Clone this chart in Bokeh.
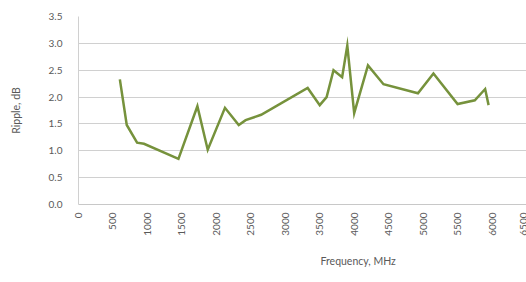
import math
from bokeh.plotting import figure
from bokeh.models import FixedTicker, Range1d, Title, PrintfTickFormatter
from bokeh.embed import file_html
from bokeh.resources import INLINE

freq_mhz = [600, 700, 850, 950, 1450, 1725, 1875, 2125, 2325, 2425, 2650, 3325,
            3500, 3600, 3700, 3825, 3900, 4000, 4200, 4425, 4925, 5150, 5500,
            5750, 5900, 5950]
ripple_db = [2.33, 1.48, 1.15, 1.13, 0.85, 1.83, 1.02, 1.80, 1.48, 1.57, 1.67, 2.17,
             1.85, 2.00, 2.50, 2.37, 2.96, 1.70, 2.59, 2.24, 2.07, 2.44, 1.87,
             1.94, 2.15, 1.85]
x_ticks = [0, 500, 1000, 1500, 2000, 2500, 3000, 3500, 4000, 4500, 5000, 5500, 6000, 6500]
y_ticks = [0.0, 0.5, 1.0, 1.5, 2.0, 2.5, 3.0, 3.5]

FONT = "Lato"
GRAY = "#595959"

p = figure(width=526, height=282, output_backend="svg", toolbar_location=None,
           x_range=Range1d(0, 6500), y_range=Range1d(0, 3.5),
           min_border_left=78, min_border_right=0, min_border_top=16, min_border_bottom=0)
p.outline_line_color = None
p.background_fill_color = "white"

p.line(freq_mhz, ripple_db, line_color="#76923C", line_width=2.5, line_join="miter")

p.xgrid.grid_line_color = None
p.ygrid.ticker = FixedTicker(ticks=y_ticks)
p.ygrid.grid_line_color = "#d0d0d0"
p.ygrid.grid_line_width = 1

p.xaxis.ticker = FixedTicker(ticks=x_ticks)
p.xaxis.major_label_orientation = math.pi / 2
p.xaxis.axis_line_color = "#c8c8c8"
p.yaxis.ticker = FixedTicker(ticks=y_ticks)
p.yaxis.formatter = PrintfTickFormatter(format="%.1f")
p.yaxis.axis_line_color = "#d0d0d0"

for ax in (p.xaxis[0], p.yaxis[0]):
    ax.major_tick_line_color = None
    ax.minor_tick_line_color = None
    ax.major_label_text_font = FONT
    ax.major_label_text_font_size = "10px"
    ax.major_label_text_color = GRAY
    ax.axis_label_text_font = FONT
    ax.axis_label_text_font_size = "10.5px"
    ax.axis_label_text_color = GRAY
    ax.axis_label_text_font_style = "normal"

p.xaxis.major_label_standoff = 2
p.yaxis.major_label_standoff = 10
p.yaxis.axis_label = "Ripple, dB"
p.yaxis.axis_label_standoff = 24

xt = Title(text="Frequency, MHz", align="left", offset=242, text_font=FONT,
           text_font_size="10.5px", text_color=GRAY, text_font_style="normal",
           standoff=30, vertical_align="middle")
p.add_layout(xt, "below")

open("out.html", "w").write(file_html(p, INLINE))
